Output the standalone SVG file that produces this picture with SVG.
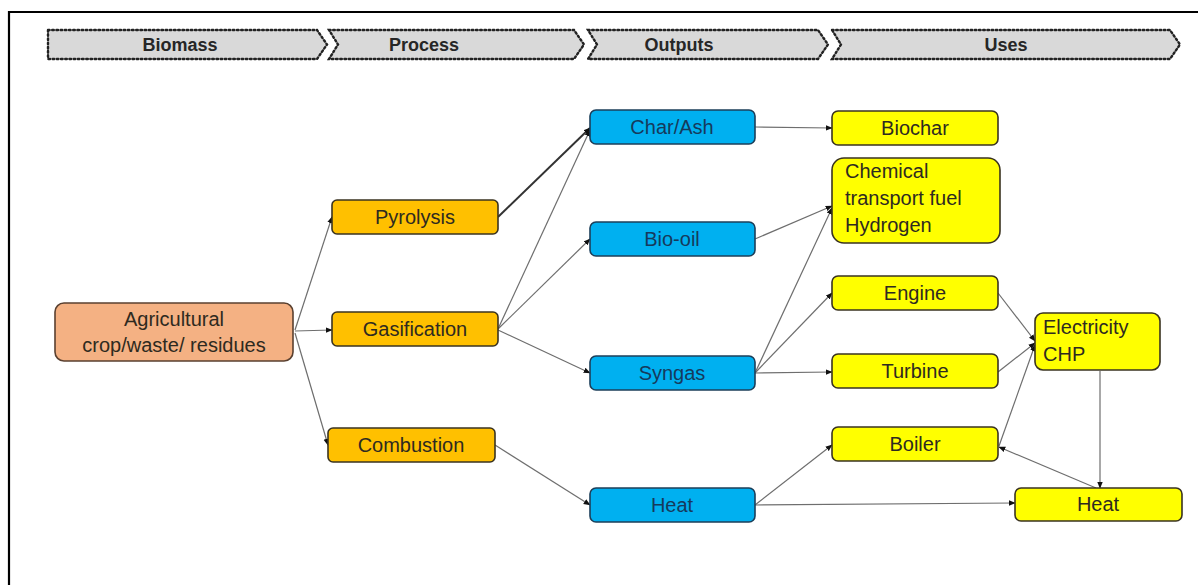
<svg xmlns="http://www.w3.org/2000/svg" width="1198" height="585" viewBox="0 0 1198 585">
  <defs>
    <marker id="arr" viewBox="0 0 10 10" refX="9" refY="5" markerWidth="7" markerHeight="7" markerUnits="userSpaceOnUse" orient="auto">
      <path d="M0,1 L10,5 L0,9 Z" fill="#111"/>
    </marker>
    <style>
      .frame { fill: none; stroke: #000; stroke-width: 2.2; }
      .stage { fill: #d9d9d9; stroke: #222; stroke-width: 2.4; stroke-dasharray: 1.6 2.6; stroke-linecap: round; }
      .stage-t { font-family: "Liberation Sans", Arial, sans-serif; font-weight: bold; font-size: 18px; fill: #262626; text-anchor: middle; }
      .node rect { stroke: #3a3320; stroke-width: 1.6; }
      .feed rect { fill: #f4b183; stroke: #5a4030; }
      .proc rect { fill: #ffc000; }
      .out rect { fill: #00b0f0; stroke: #1c3f5a; }
      .use rect { fill: #ffff00; }
      .lbl { font-family: "Liberation Sans", Arial, sans-serif; font-size: 20px; fill: #2e2a20; text-anchor: middle; }
      .out .lbl { fill: #163a5c; }
      .lft { text-anchor: start; }
      .edge { fill: none; stroke: #6e6e6e; stroke-width: 1.2; marker-end: url(#arr); }
      .bold { stroke: #333; stroke-width: 2; }
    </style>
  </defs>

  <rect width="1198" height="585" fill="#fff"/>
  <path class="frame" d="M9,585 V12 H1198"/>

  <!-- stage header chevrons -->
  <g id="stages">
    <path class="stage" d="M48,30 H317 L327,44.5 L317,59 H48 Z"/>
    <text class="stage-t" x="180" y="51">Biomass</text>
    <path class="stage" d="M329,30 H574 L584,44.5 L574,59 H329 L338,44.5 Z"/>
    <text class="stage-t" x="424" y="51">Process</text>
    <path class="stage" d="M588,30 H818 L828,44.5 L818,59 H588 L597,44.5 Z"/>
    <text class="stage-t" x="679" y="51">Outputs</text>
    <path class="stage" d="M832,30 H1170 L1180,44.5 L1170,59 H832 L841,44.5 Z"/>
    <text class="stage-t" x="1006" y="51">Uses</text>
  </g>

  <!-- connectors -->
  <g id="connectors">
    <path class="edge" d="M295,330 L332,217"/>
    <path class="edge" d="M295,331 L332,330"/>
    <path class="edge" d="M295,333 L328,445"/>
    <path class="edge bold" d="M498,217 L590,128"/>
    <path class="edge" d="M498,329 L590,130"/>
    <path class="edge" d="M498,329 L590,239"/>
    <path class="edge" d="M498,330 L590,373"/>
    <path class="edge" d="M495,445 L590,505"/>
    <path class="edge" d="M755,127 L832,128"/>
    <path class="edge" d="M755,239 L832,206"/>
    <path class="edge" d="M755,373 L832,208"/>
    <path class="edge" d="M755,373 L832,293"/>
    <path class="edge" d="M755,373 L832,372"/>
    <path class="edge" d="M755,505 L832,445"/>
    <path class="edge" d="M755,505 L1015,503"/>
    <path class="edge" d="M998,293 L1035,341"/>
    <path class="edge" d="M998,372 L1035,343"/>
    <path class="edge" d="M999,446 L1035,345"/>
    <path class="edge" d="M1096,488 L999,447"/>
    <path class="edge" d="M1100,371 L1100,488"/>
  </g>

  <!-- biomass feedstock -->
  <g id="agricultural" class="node feed">
    <rect x="55" y="303" width="238" height="58" rx="9"/>
    <text class="lbl" x="174" y="326">Agricultural</text>
    <text class="lbl" x="174" y="352">crop/waste/ residues</text>
  </g>

  <!-- processes -->
  <g id="pyrolysis" class="node proc">
    <rect x="332" y="200" width="166" height="34" rx="5"/>
    <text class="lbl" x="415" y="224">Pyrolysis</text>
  </g>
  <g id="gasification" class="node proc">
    <rect x="332" y="312" width="166" height="34" rx="5"/>
    <text class="lbl" x="415" y="336">Gasification</text>
  </g>
  <g id="combustion" class="node proc">
    <rect x="328" y="428" width="167" height="34" rx="5"/>
    <text class="lbl" x="411" y="452">Combustion</text>
  </g>

  <!-- outputs -->
  <g id="char-ash" class="node out">
    <rect x="590" y="110" width="165" height="34" rx="6"/>
    <text class="lbl" x="672" y="134">Char/Ash</text>
  </g>
  <g id="bio-oil" class="node out">
    <rect x="590" y="222" width="165" height="34" rx="6"/>
    <text class="lbl" x="672" y="246">Bio-oil</text>
  </g>
  <g id="syngas" class="node out">
    <rect x="590" y="356" width="165" height="34" rx="6"/>
    <text class="lbl" x="672" y="380">Syngas</text>
  </g>
  <g id="heat-out" class="node out">
    <rect x="590" y="488" width="165" height="34" rx="6"/>
    <text class="lbl" x="672" y="512">Heat</text>
  </g>

  <!-- uses -->
  <g id="biochar" class="node use">
    <rect x="832" y="111" width="166" height="34" rx="6"/>
    <text class="lbl" x="915" y="135">Biochar</text>
  </g>
  <g id="chemical" class="node use">
    <rect x="832" y="158" width="168" height="85" rx="12"/>
    <text class="lbl lft" x="845" y="178">Chemical</text>
    <text class="lbl lft" x="845" y="205">transport fuel</text>
    <text class="lbl lft" x="845" y="232">Hydrogen</text>
  </g>
  <g id="engine" class="node use">
    <rect x="832" y="276" width="166" height="34" rx="6"/>
    <text class="lbl" x="915" y="300">Engine</text>
  </g>
  <g id="turbine" class="node use">
    <rect x="832" y="354" width="166" height="34" rx="6"/>
    <text class="lbl" x="915" y="378">Turbine</text>
  </g>
  <g id="boiler" class="node use">
    <rect x="832" y="427" width="166" height="34" rx="6"/>
    <text class="lbl" x="915" y="451">Boiler</text>
  </g>
  <g id="electricity" class="node use">
    <rect x="1035" y="313" width="125" height="57" rx="8"/>
    <text class="lbl lft" x="1043" y="334">Electricity</text>
    <text class="lbl lft" x="1043" y="361">CHP</text>
  </g>
  <g id="heat-use" class="node use">
    <rect x="1015" y="488" width="167" height="33" rx="6"/>
    <text class="lbl" x="1098" y="511">Heat</text>
  </g>
</svg>
